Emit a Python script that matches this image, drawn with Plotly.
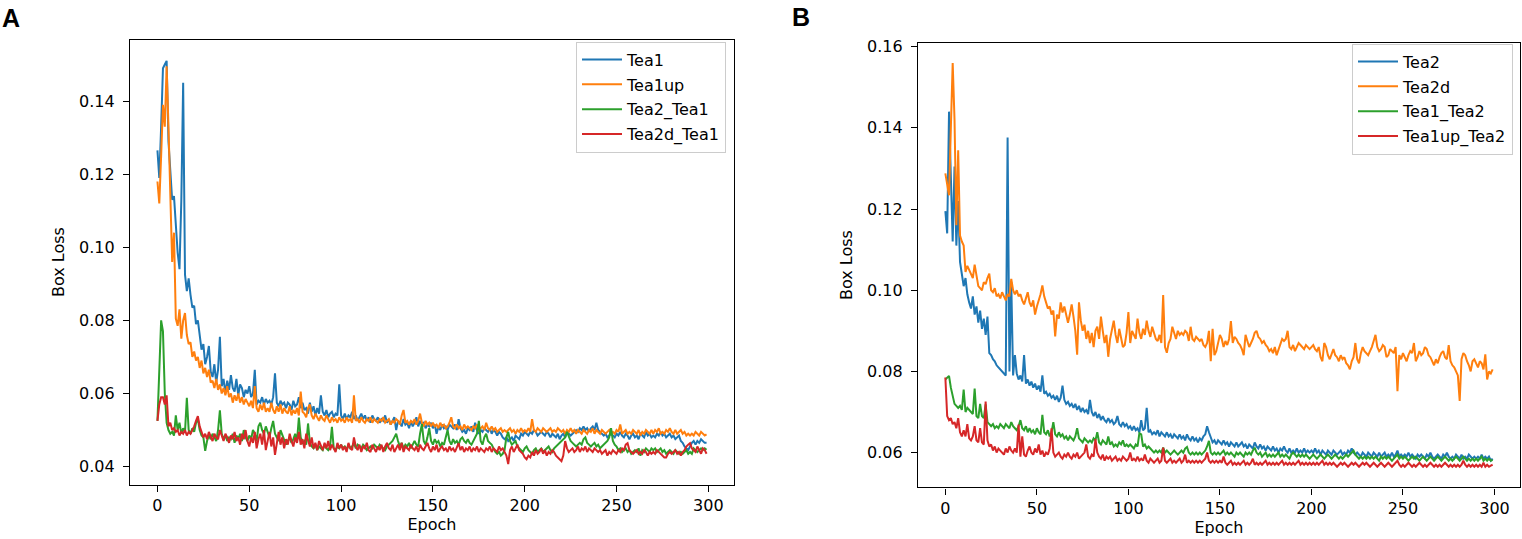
import plotly.graph_objects as go

epochs = list(range(300))

# ---------------- Panel A ----------------
tea1 = [
0.1265,0.1190,0.1330,0.1490,0.1500,0.1510,0.1290,0.1200,0.1130,0.1140,
0.1060,0.0985,0.0940,0.1130,0.1450,0.0925,0.0880,0.0915,0.0870,0.0835,
0.0840,0.0790,0.0800,0.0750,0.0720,0.0735,0.0680,0.0700,0.0730,0.0660,
0.0645,0.0680,0.0630,0.0665,0.0755,0.0620,0.0640,0.0600,0.0635,0.0610,
0.0650,0.0615,0.0605,0.0640,0.0595,0.0625,0.0615,0.0590,0.0610,0.0600,
0.0620,0.0590,0.0600,0.0665,0.0570,0.0580,0.0575,0.0590,0.0570,0.0585,
0.0575,0.0580,0.0570,0.0590,0.0655,0.0575,0.0565,0.0580,0.0570,0.0575,
0.0560,0.0575,0.0570,0.0555,0.0580,0.0565,0.0570,0.0590,0.0560,0.0575,
0.0555,0.0560,0.0545,0.0575,0.0550,0.0565,0.0540,0.0560,0.0545,0.0595,
0.0550,0.0540,0.0555,0.0535,0.0545,0.0550,0.0535,0.0545,0.0540,0.0625,
0.0540,0.0530,0.0545,0.0530,0.0540,0.0535,0.0550,0.0530,0.0540,0.0525,
0.0535,0.0545,0.0530,0.0540,0.0525,0.0535,0.0520,0.0540,0.0530,0.0525,
0.0535,0.0520,0.0530,0.0525,0.0540,0.0520,0.0530,0.0515,0.0525,0.0535,
0.0500,0.0525,0.0520,0.0510,0.0530,0.0515,0.0520,0.0505,0.0525,0.0510,
0.0520,0.0535,0.0510,0.0525,0.0515,0.0520,0.0505,0.0515,0.0510,0.0520,
0.0505,0.0515,0.0490,0.0510,0.0500,0.0515,0.0505,0.0510,0.0500,0.0515,
0.0510,0.0505,0.0515,0.0500,0.0530,0.0505,0.0495,0.0500,0.0490,0.0505,
0.0500,0.0510,0.0495,0.0520,0.0500,0.0490,0.0500,0.0495,0.0505,0.0500,
0.0495,0.0505,0.0490,0.0500,0.0495,0.0485,0.0495,0.0490,0.0480,0.0475,
0.0480,0.0470,0.0475,0.0480,0.0470,0.0485,0.0480,0.0475,0.0490,0.0485,
0.0495,0.0490,0.0485,0.0495,0.0490,0.0500,0.0495,0.0485,0.0490,0.0495,
0.0490,0.0485,0.0495,0.0490,0.0480,0.0490,0.0485,0.0480,0.0490,0.0475,
0.0485,0.0490,0.0480,0.0495,0.0490,0.0485,0.0490,0.0495,0.0500,0.0495,
0.0505,0.0500,0.0510,0.0500,0.0505,0.0495,0.0505,0.0510,0.0500,0.0520,
0.0500,0.0495,0.0490,0.0485,0.0490,0.0480,0.0485,0.0490,0.0485,0.0480,
0.0490,0.0485,0.0495,0.0485,0.0480,0.0490,0.0485,0.0475,0.0485,0.0490,
0.0480,0.0485,0.0475,0.0490,0.0485,0.0480,0.0495,0.0485,0.0490,0.0480,
0.0485,0.0480,0.0490,0.0485,0.0495,0.0485,0.0490,0.0480,0.0485,0.0490,
0.0480,0.0485,0.0475,0.0480,0.0485,0.0470,0.0465,0.0455,0.0450,0.0445,
0.0455,0.0465,0.0470,0.0460,0.0470,0.0465,0.0475,0.0470,0.0465,0.0465]

tea1up = [
0.1180,0.1120,0.1250,0.1390,0.1330,0.1495,0.1330,0.1150,0.0960,0.1040,
0.0805,0.0785,0.0830,0.0750,0.0800,0.0820,0.0760,0.0735,0.0740,0.0700,
0.0715,0.0690,0.0700,0.0670,0.0690,0.0655,0.0670,0.0645,0.0665,0.0630,
0.0635,0.0615,0.0640,0.0610,0.0625,0.0600,0.0615,0.0595,0.0620,0.0590,
0.0600,0.0575,0.0595,0.0580,0.0600,0.0575,0.0590,0.0570,0.0585,0.0575,
0.0565,0.0580,0.0560,0.0620,0.0560,0.0550,0.0570,0.0555,0.0575,0.0550,
0.0560,0.0550,0.0575,0.0555,0.0545,0.0565,0.0550,0.0570,0.0545,0.0560,
0.0550,0.0545,0.0565,0.0540,0.0555,0.0545,0.0560,0.0540,0.0605,0.0550,
0.0545,0.0535,0.0560,0.0570,0.0540,0.0530,0.0545,0.0535,0.0525,0.0540,
0.0530,0.0525,0.0540,0.0530,0.0520,0.0535,0.0525,0.0530,0.0520,0.0535,
0.0525,0.0530,0.0520,0.0535,0.0525,0.0530,0.0520,0.0595,0.0525,0.0530,
0.0520,0.0535,0.0525,0.0520,0.0530,0.0525,0.0535,0.0520,0.0530,0.0525,
0.0520,0.0530,0.0525,0.0535,0.0520,0.0525,0.0530,0.0515,0.0525,0.0520,
0.0530,0.0525,0.0515,0.0540,0.0555,0.0520,0.0525,0.0515,0.0525,0.0520,
0.0530,0.0515,0.0525,0.0545,0.0520,0.0510,0.0525,0.0515,0.0520,0.0510,
0.0520,0.0510,0.0515,0.0505,0.0520,0.0510,0.0515,0.0505,0.0510,0.0520,
0.0535,0.0510,0.0505,0.0515,0.0505,0.0510,0.0500,0.0515,0.0505,0.0510,
0.0505,0.0500,0.0510,0.0505,0.0515,0.0500,0.0505,0.0510,0.0500,0.0520,
0.0505,0.0500,0.0510,0.0500,0.0505,0.0495,0.0500,0.0505,0.0495,0.0500,
0.0495,0.0500,0.0505,0.0495,0.0500,0.0490,0.0500,0.0495,0.0505,0.0495,
0.0500,0.0495,0.0505,0.0495,0.0530,0.0500,0.0495,0.0505,0.0500,0.0495,
0.0505,0.0500,0.0495,0.0500,0.0505,0.0495,0.0500,0.0495,0.0505,0.0500,
0.0495,0.0500,0.0490,0.0500,0.0495,0.0505,0.0495,0.0500,0.0490,0.0500,
0.0495,0.0490,0.0500,0.0495,0.0490,0.0500,0.0495,0.0505,0.0490,0.0500,
0.0495,0.0490,0.0500,0.0495,0.0490,0.0495,0.0500,0.0490,0.0495,0.0490,
0.0500,0.0495,0.0515,0.0490,0.0495,0.0500,0.0490,0.0495,0.0490,0.0500,
0.0495,0.0490,0.0500,0.0485,0.0495,0.0490,0.0500,0.0495,0.0490,0.0500,
0.0490,0.0500,0.0495,0.0505,0.0490,0.0495,0.0490,0.0500,0.0495,0.0505,
0.0495,0.0490,0.0500,0.0490,0.0495,0.0500,0.0490,0.0495,0.0485,0.0490,
0.0485,0.0490,0.0485,0.0495,0.0490,0.0485,0.0495,0.0490,0.0485,0.0488]

tea2_tea1 = [
0.0525,0.0650,0.0800,0.0770,0.0600,0.0520,0.0500,0.0490,0.0495,0.0485,
0.0540,0.0500,0.0520,0.0490,0.0505,0.0495,0.0588,0.0500,0.0490,0.0505,
0.0495,0.0520,0.0530,0.0500,0.0485,0.0480,0.0443,0.0470,0.0485,0.0475,
0.0490,0.0480,0.0470,0.0500,0.0554,0.0490,0.0475,0.0485,0.0470,0.0480,
0.0475,0.0490,0.0465,0.0485,0.0475,0.0490,0.0470,0.0500,0.0480,0.0470,
0.0485,0.0475,0.0500,0.0490,0.0470,0.0510,0.0520,0.0500,0.0490,0.0510,
0.0495,0.0480,0.0505,0.0525,0.0490,0.0480,0.0470,0.0500,0.0485,0.0470,
0.0460,0.0470,0.0480,0.0465,0.0475,0.0490,0.0470,0.0534,0.0480,0.0465,
0.0470,0.0460,0.0518,0.0465,0.0455,0.0450,0.0460,0.0445,0.0455,0.0450,
0.0445,0.0460,0.0450,0.0445,0.0455,0.0509,0.0450,0.0445,0.0455,0.0450,
0.0460,0.0450,0.0455,0.0445,0.0460,0.0450,0.0455,0.0465,0.0450,0.0460,
0.0455,0.0450,0.0460,0.0455,0.0445,0.0450,0.0455,0.0450,0.0460,0.0455,
0.0450,0.0460,0.0455,0.0450,0.0445,0.0455,0.0460,0.0465,0.0470,0.0480,
0.0490,0.0470,0.0455,0.0465,0.0450,0.0460,0.0455,0.0465,0.0450,0.0460,
0.0470,0.0460,0.0455,0.0490,0.0516,0.0470,0.0460,0.0480,0.0505,0.0470,
0.0460,0.0475,0.0465,0.0470,0.0455,0.0465,0.0460,0.0480,0.0500,0.0470,
0.0460,0.0475,0.0465,0.0470,0.0460,0.0475,0.0480,0.0470,0.0465,0.0475,
0.0465,0.0460,0.0470,0.0480,0.0490,0.0525,0.0470,0.0460,0.0480,0.0490,
0.0470,0.0465,0.0460,0.0450,0.0440,0.0435,0.0440,0.0430,0.0435,0.0445,
0.0480,0.0495,0.0470,0.0460,0.0465,0.0470,0.0455,0.0450,0.0445,0.0440,
0.0450,0.0455,0.0445,0.0440,0.0435,0.0445,0.0450,0.0440,0.0445,0.0450,
0.0440,0.0445,0.0450,0.0455,0.0445,0.0440,0.0450,0.0455,0.0460,0.0465,
0.0470,0.0475,0.0480,0.0495,0.0480,0.0470,0.0465,0.0460,0.0455,0.0460,
0.0465,0.0460,0.0475,0.0480,0.0465,0.0460,0.0455,0.0460,0.0465,0.0455,
0.0460,0.0450,0.0455,0.0460,0.0465,0.0470,0.0480,0.0505,0.0470,0.0460,
0.0455,0.0445,0.0450,0.0440,0.0445,0.0450,0.0440,0.0445,0.0435,0.0440,
0.0445,0.0440,0.0450,0.0430,0.0445,0.0440,0.0450,0.0445,0.0440,0.0450,
0.0445,0.0450,0.0440,0.0445,0.0450,0.0440,0.0445,0.0435,0.0440,0.0445,
0.0440,0.0435,0.0445,0.0440,0.0435,0.0440,0.0435,0.0440,0.0445,0.0435,
0.0440,0.0435,0.0450,0.0445,0.0440,0.0445,0.0450,0.0445,0.0450,0.0446]

tea2d_tea1 = [
0.0525,0.0570,0.0590,0.0590,0.0570,0.0595,0.0510,0.0520,0.0500,0.0505,
0.0495,0.0500,0.0485,0.0495,0.0490,0.0500,0.0485,0.0495,0.0490,0.0500,
0.0510,0.0525,0.0538,0.0510,0.0495,0.0480,0.0490,0.0475,0.0495,0.0480,
0.0470,0.0490,0.0480,0.0475,0.0500,0.0485,0.0470,0.0490,0.0480,0.0465,
0.0485,0.0475,0.0495,0.0470,0.0480,0.0460,0.0490,0.0475,0.0500,0.0470,
0.0455,0.0480,0.0465,0.0495,0.0450,0.0475,0.0490,0.0460,0.0500,0.0445,
0.0470,0.0495,0.0455,0.0480,0.0432,0.0470,0.0495,0.0460,0.0480,0.0450,
0.0475,0.0460,0.0490,0.0470,0.0455,0.0480,0.0465,0.0495,0.0460,0.0475,
0.0450,0.0490,0.0470,0.0455,0.0480,0.0450,0.0465,0.0445,0.0470,0.0455,
0.0445,0.0465,0.0450,0.0470,0.0445,0.0460,0.0450,0.0440,0.0465,0.0450,
0.0460,0.0445,0.0455,0.0440,0.0465,0.0450,0.0445,0.0480,0.0455,0.0445,
0.0460,0.0440,0.0455,0.0450,0.0465,0.0445,0.0440,0.0460,0.0450,0.0440,
0.0455,0.0445,0.0460,0.0440,0.0455,0.0465,0.0450,0.0445,0.0460,0.0440,
0.0450,0.0460,0.0445,0.0465,0.0440,0.0455,0.0450,0.0445,0.0460,0.0450,
0.0445,0.0455,0.0440,0.0460,0.0450,0.0445,0.0455,0.0465,0.0450,0.0440,
0.0455,0.0445,0.0460,0.0440,0.0450,0.0455,0.0445,0.0450,0.0440,0.0455,
0.0445,0.0450,0.0440,0.0455,0.0464,0.0445,0.0455,0.0440,0.0450,0.0445,
0.0455,0.0440,0.0450,0.0445,0.0455,0.0440,0.0450,0.0445,0.0440,0.0450,
0.0445,0.0455,0.0440,0.0450,0.0445,0.0440,0.0455,0.0445,0.0450,0.0440,
0.0430,0.0407,0.0445,0.0455,0.0440,0.0450,0.0460,0.0445,0.0440,0.0435,
0.0425,0.0420,0.0430,0.0425,0.0440,0.0430,0.0445,0.0435,0.0440,0.0450,
0.0435,0.0445,0.0430,0.0440,0.0435,0.0445,0.0440,0.0430,0.0425,0.0420,
0.0415,0.0430,0.0470,0.0450,0.0440,0.0445,0.0450,0.0440,0.0445,0.0455,
0.0440,0.0450,0.0445,0.0455,0.0440,0.0450,0.0445,0.0440,0.0450,0.0445,
0.0440,0.0445,0.0435,0.0440,0.0445,0.0430,0.0440,0.0435,0.0445,0.0440,
0.0435,0.0445,0.0440,0.0450,0.0445,0.0460,0.0464,0.0445,0.0440,0.0435,
0.0440,0.0445,0.0435,0.0440,0.0435,0.0445,0.0440,0.0430,0.0440,0.0435,
0.0440,0.0435,0.0445,0.0440,0.0435,0.0430,0.0425,0.0425,0.0435,0.0440,
0.0435,0.0440,0.0445,0.0435,0.0440,0.0430,0.0440,0.0445,0.0455,0.0460,
0.0464,0.0450,0.0445,0.0440,0.0455,0.0445,0.0435,0.0450,0.0445,0.0435]

# ---------------- Panel B ----------------
tea2 = [
0.1195,0.1140,0.1440,0.1280,0.1120,0.1305,0.1110,0.1220,0.1070,0.1040,
0.1010,0.1030,0.0990,0.0970,0.0955,0.0985,0.0940,0.0960,0.0920,0.0950,
0.0905,0.0930,0.0890,0.0935,0.0845,0.0840,0.0830,0.0825,0.0815,0.0810,
0.0805,0.0800,0.0795,0.0790,0.1376,0.0800,0.1020,0.0790,0.0840,0.0795,
0.0780,0.0790,0.0775,0.0840,0.0770,0.0780,0.0765,0.0775,0.0760,0.0770,
0.0755,0.0765,0.0750,0.0790,0.0745,0.0750,0.0740,0.0745,0.0735,0.0740,
0.0730,0.0740,0.0725,0.0735,0.0765,0.0730,0.0720,0.0725,0.0715,0.0720,
0.0710,0.0720,0.0705,0.0715,0.0700,0.0710,0.0700,0.0705,0.0695,0.0730,
0.0700,0.0690,0.0700,0.0685,0.0695,0.0680,0.0690,0.0680,0.0675,0.0685,
0.0675,0.0680,0.0670,0.0675,0.0690,0.0670,0.0665,0.0675,0.0665,0.0670,
0.0660,0.0665,0.0655,0.0665,0.0655,0.0660,0.0650,0.0680,0.0655,0.0660,
0.0710,0.0650,0.0655,0.0645,0.0650,0.0645,0.0655,0.0640,0.0650,0.0645,
0.0640,0.0650,0.0640,0.0645,0.0635,0.0645,0.0640,0.0635,0.0645,0.0635,
0.0640,0.0630,0.0645,0.0635,0.0630,0.0640,0.0630,0.0635,0.0625,0.0635,
0.0630,0.0640,0.0645,0.0665,0.0650,0.0635,0.0625,0.0630,0.0620,0.0630,
0.0625,0.0620,0.0630,0.0620,0.0625,0.0615,0.0625,0.0620,0.0615,0.0625,
0.0615,0.0620,0.0625,0.0615,0.0620,0.0610,0.0620,0.0615,0.0610,0.0625,
0.0615,0.0610,0.0620,0.0610,0.0615,0.0605,0.0615,0.0610,0.0605,0.0615,
0.0605,0.0610,0.0600,0.0610,0.0605,0.0615,0.0605,0.0600,0.0610,0.0600,
0.0605,0.0600,0.0610,0.0600,0.0605,0.0600,0.0610,0.0600,0.0605,0.0600,
0.0605,0.0600,0.0610,0.0600,0.0605,0.0595,0.0605,0.0600,0.0595,0.0605,
0.0600,0.0595,0.0605,0.0600,0.0595,0.0600,0.0605,0.0595,0.0600,0.0595,
0.0605,0.0600,0.0610,0.0600,0.0595,0.0600,0.0595,0.0590,0.0600,0.0595,
0.0590,0.0600,0.0595,0.0590,0.0600,0.0595,0.0590,0.0600,0.0590,0.0595,
0.0600,0.0590,0.0595,0.0590,0.0600,0.0590,0.0595,0.0605,0.0590,0.0595,
0.0590,0.0595,0.0590,0.0600,0.0590,0.0595,0.0590,0.0585,0.0595,0.0590,
0.0595,0.0590,0.0585,0.0595,0.0590,0.0600,0.0590,0.0585,0.0590,0.0595,
0.0590,0.0585,0.0595,0.0590,0.0600,0.0590,0.0585,0.0590,0.0585,0.0595,
0.0590,0.0585,0.0595,0.0585,0.0590,0.0585,0.0595,0.0590,0.0585,0.0590,
0.0585,0.0590,0.0585,0.0595,0.0585,0.0590,0.0585,0.0590,0.0580,0.0585]

tea2d = [
0.1288,0.1260,0.1234,0.1400,0.1560,0.1420,0.1160,0.1345,0.1135,0.1120,
0.1110,0.1045,0.1060,0.1050,0.1040,0.1030,0.1063,0.1040,0.1010,0.1005,
0.1000,0.1020,0.1015,0.1030,0.1041,0.1000,0.0995,0.1005,0.0985,0.0990,
0.0980,0.0995,0.0985,0.0975,0.0990,0.0985,0.1028,0.1000,0.0990,0.1000,
0.0985,0.0990,0.0975,0.0965,0.0980,0.0995,0.0970,0.0960,0.0975,0.0940,
0.0960,0.0975,0.0990,0.1012,0.0985,0.0970,0.0955,0.0960,0.0940,0.0950,
0.0886,0.0940,0.0930,0.0970,0.0945,0.0960,0.0935,0.0920,0.0940,0.0965,
0.0935,0.0900,0.0841,0.0970,0.0925,0.0900,0.0915,0.0880,0.0900,0.0870,
0.0895,0.0860,0.0900,0.0910,0.0880,0.0935,0.0900,0.0870,0.0890,0.0836,
0.0880,0.0905,0.0925,0.0890,0.0870,0.0905,0.0880,0.0860,0.0865,0.0895,
0.0946,0.0870,0.0900,0.0890,0.0880,0.0930,0.0895,0.0880,0.0905,0.0890,
0.0925,0.0900,0.0885,0.0910,0.0895,0.0880,0.0875,0.0890,0.0870,0.0988,
0.0860,0.0846,0.0870,0.0880,0.0910,0.0895,0.0880,0.0900,0.0890,0.0895,
0.0890,0.0900,0.0895,0.0875,0.0910,0.0880,0.0875,0.0885,0.0880,0.0875,
0.0880,0.0865,0.0860,0.0870,0.0900,0.0825,0.0905,0.0840,0.0850,0.0870,
0.0890,0.0880,0.0860,0.0875,0.0865,0.0880,0.0924,0.0870,0.0885,0.0880,
0.0870,0.0865,0.0855,0.0840,0.0890,0.0875,0.0860,0.0870,0.0880,0.0895,
0.0900,0.0885,0.0880,0.0870,0.0875,0.0865,0.0860,0.0850,0.0855,0.0845,
0.0860,0.0840,0.0855,0.0870,0.0880,0.0875,0.0880,0.0900,0.0860,0.0855,
0.0865,0.0850,0.0860,0.0870,0.0865,0.0860,0.0855,0.0865,0.0860,0.0855,
0.0860,0.0865,0.0855,0.0850,0.0860,0.0835,0.0825,0.0870,0.0860,0.0840,
0.0830,0.0845,0.0855,0.0840,0.0835,0.0825,0.0840,0.0830,0.0835,0.0820,
0.0815,0.0805,0.0825,0.0835,0.0870,0.0830,0.0820,0.0845,0.0860,0.0850,
0.0845,0.0840,0.0850,0.0860,0.0875,0.0890,0.0860,0.0850,0.0855,0.0865,
0.0860,0.0835,0.0840,0.0855,0.0850,0.0845,0.0860,0.0751,0.0840,0.0830,
0.0845,0.0835,0.0825,0.0840,0.0850,0.0845,0.0870,0.0825,0.0835,0.0850,
0.0840,0.0845,0.0860,0.0855,0.0840,0.0835,0.0825,0.0815,0.0830,0.0820,
0.0835,0.0845,0.0850,0.0835,0.0830,0.0865,0.0825,0.0815,0.0810,0.0800,
0.0790,0.0727,0.0830,0.0845,0.0840,0.0825,0.0815,0.0800,0.0825,0.0830,
0.0820,0.0810,0.0825,0.0820,0.0805,0.0842,0.0780,0.0800,0.0795,0.0805]

tea1_tea2 = [
0.0780,0.0785,0.0789,0.0760,0.0740,0.0720,0.0715,0.0710,0.0715,0.0705,
0.0755,0.0700,0.0710,0.0705,0.0700,0.0695,0.0758,0.0690,0.0685,0.0720,
0.0690,0.0685,0.0719,0.0675,0.0670,0.0665,0.0670,0.0660,0.0665,0.0660,
0.0670,0.0665,0.0660,0.0670,0.0665,0.0660,0.0675,0.0665,0.0660,0.0655,
0.0665,0.0680,0.0660,0.0655,0.0665,0.0650,0.0660,0.0650,0.0655,0.0645,
0.0660,0.0650,0.0645,0.0693,0.0650,0.0645,0.0655,0.0640,0.0650,0.0675,
0.0645,0.0640,0.0650,0.0640,0.0645,0.0635,0.0640,0.0630,0.0640,0.0635,
0.0630,0.0640,0.0660,0.0635,0.0630,0.0625,0.0635,0.0630,0.0625,0.0630,
0.0625,0.0635,0.0630,0.0650,0.0625,0.0620,0.0630,0.0625,0.0620,0.0640,
0.0620,0.0625,0.0615,0.0620,0.0615,0.0625,0.0620,0.0630,0.0615,0.0620,
0.0615,0.0620,0.0615,0.0610,0.0620,0.0615,0.0648,0.0645,0.0615,0.0620,
0.0610,0.0615,0.0610,0.0605,0.0600,0.0605,0.0600,0.0605,0.0600,0.0612,
0.0600,0.0605,0.0600,0.0595,0.0600,0.0605,0.0600,0.0595,0.0600,0.0605,
0.0600,0.0610,0.0614,0.0600,0.0595,0.0600,0.0595,0.0600,0.0595,0.0600,
0.0595,0.0600,0.0605,0.0615,0.0629,0.0600,0.0595,0.0600,0.0595,0.0600,
0.0595,0.0600,0.0605,0.0595,0.0600,0.0595,0.0600,0.0595,0.0590,0.0600,
0.0595,0.0600,0.0595,0.0590,0.0600,0.0595,0.0600,0.0595,0.0605,0.0612,
0.0600,0.0595,0.0600,0.0590,0.0595,0.0600,0.0590,0.0595,0.0590,0.0595,
0.0590,0.0595,0.0600,0.0590,0.0595,0.0590,0.0595,0.0590,0.0585,0.0595,
0.0600,0.0595,0.0590,0.0595,0.0590,0.0595,0.0590,0.0595,0.0590,0.0585,
0.0590,0.0595,0.0590,0.0585,0.0590,0.0595,0.0590,0.0585,0.0590,0.0595,
0.0590,0.0585,0.0590,0.0595,0.0590,0.0585,0.0590,0.0585,0.0590,0.0595,
0.0590,0.0595,0.0600,0.0605,0.0595,0.0590,0.0585,0.0590,0.0585,0.0590,
0.0585,0.0590,0.0585,0.0590,0.0585,0.0590,0.0585,0.0580,0.0590,0.0585,
0.0590,0.0585,0.0590,0.0585,0.0580,0.0585,0.0590,0.0595,0.0585,0.0590,
0.0585,0.0590,0.0585,0.0580,0.0585,0.0590,0.0585,0.0590,0.0585,0.0580,
0.0585,0.0590,0.0585,0.0580,0.0585,0.0590,0.0585,0.0580,0.0585,0.0590,
0.0585,0.0580,0.0585,0.0590,0.0585,0.0580,0.0585,0.0580,0.0585,0.0590,
0.0585,0.0580,0.0585,0.0590,0.0585,0.0580,0.0585,0.0580,0.0585,0.0580,
0.0585,0.0580,0.0585,0.0590,0.0580,0.0585,0.0580,0.0585,0.0580,0.0582]

tea1up_tea2 = [
0.0785,0.0690,0.0680,0.0685,0.0670,0.0675,0.0660,0.0685,0.0650,0.0640,
0.0655,0.0640,0.0670,0.0635,0.0630,0.0640,0.0665,0.0630,0.0625,0.0660,
0.0625,0.0620,0.0726,0.0630,0.0615,0.0620,0.0605,0.0615,0.0600,0.0610,
0.0605,0.0600,0.0595,0.0610,0.0600,0.0615,0.0605,0.0600,0.0610,0.0600,
0.0669,0.0590,0.0640,0.0595,0.0590,0.0605,0.0615,0.0600,0.0595,0.0610,
0.0600,0.0620,0.0595,0.0605,0.0590,0.0600,0.0595,0.0610,0.0660,0.0600,
0.0590,0.0595,0.0600,0.0590,0.0585,0.0595,0.0590,0.0600,0.0590,0.0585,
0.0595,0.0590,0.0600,0.0585,0.0590,0.0595,0.0600,0.0620,0.0590,0.0585,
0.0595,0.0590,0.0633,0.0600,0.0590,0.0585,0.0595,0.0580,0.0590,0.0585,
0.0590,0.0580,0.0585,0.0590,0.0580,0.0585,0.0580,0.0590,0.0585,0.0580,
0.0585,0.0600,0.0580,0.0585,0.0580,0.0590,0.0580,0.0585,0.0580,0.0595,
0.0580,0.0575,0.0585,0.0580,0.0575,0.0580,0.0585,0.0575,0.0580,0.0612,
0.0580,0.0575,0.0580,0.0585,0.0575,0.0580,0.0575,0.0580,0.0585,0.0575,
0.0580,0.0595,0.0575,0.0580,0.0575,0.0580,0.0575,0.0580,0.0575,0.0580,
0.0575,0.0580,0.0585,0.0600,0.0580,0.0575,0.0580,0.0575,0.0580,0.0575,
0.0580,0.0575,0.0590,0.0575,0.0570,0.0575,0.0580,0.0570,0.0575,0.0570,
0.0575,0.0570,0.0575,0.0580,0.0570,0.0575,0.0570,0.0575,0.0585,0.0570,
0.0575,0.0570,0.0575,0.0570,0.0575,0.0580,0.0570,0.0575,0.0570,0.0575,
0.0570,0.0575,0.0570,0.0575,0.0580,0.0570,0.0575,0.0570,0.0575,0.0570,
0.0575,0.0570,0.0575,0.0580,0.0570,0.0575,0.0570,0.0575,0.0570,0.0575,
0.0570,0.0575,0.0570,0.0575,0.0570,0.0575,0.0580,0.0570,0.0575,0.0570,
0.0575,0.0570,0.0575,0.0570,0.0565,0.0570,0.0575,0.0570,0.0575,0.0570,
0.0565,0.0570,0.0575,0.0570,0.0575,0.0570,0.0565,0.0570,0.0575,0.0570,
0.0575,0.0570,0.0565,0.0570,0.0575,0.0570,0.0565,0.0570,0.0575,0.0570,
0.0565,0.0570,0.0575,0.0570,0.0565,0.0570,0.0575,0.0580,0.0570,0.0565,
0.0570,0.0565,0.0570,0.0575,0.0570,0.0565,0.0570,0.0565,0.0570,0.0575,
0.0570,0.0565,0.0570,0.0565,0.0570,0.0575,0.0570,0.0565,0.0570,0.0565,
0.0570,0.0565,0.0570,0.0575,0.0570,0.0565,0.0570,0.0565,0.0570,0.0565,
0.0570,0.0565,0.0570,0.0580,0.0570,0.0565,0.0570,0.0565,0.0570,0.0565,
0.0570,0.0565,0.0570,0.0565,0.0575,0.0565,0.0570,0.0565,0.0568,0.0570]

x_ticks = [0, 50, 100, 150, 200, 250, 300]
y_ticks_a = [0.04, 0.06, 0.08, 0.10, 0.12, 0.14]
y_ticks_b = [0.06, 0.08, 0.10, 0.12, 0.14, 0.16]

colors = ["#1f77b4", "#ff7f0e", "#2ca02c", "#d62728"]
W, H = 1522, 539
FONT = "DejaVu Sans"

fig = go.Figure()

series_a = [("Tea1", tea1), ("Tea1up", tea1up), ("Tea2_Tea1", tea2_tea1), ("Tea2d_Tea1", tea2d_tea1)]
series_b = [("Tea2", tea2), ("Tea2d", tea2d), ("Tea1_Tea2", tea1_tea2), ("Tea1up_Tea2", tea1up_tea2)]

for i, (name, ys) in enumerate(series_a):
    fig.add_trace(go.Scatter(x=epochs, y=ys, mode="lines", name=name,
                             line=dict(color=colors[i], width=2),
                             xaxis="x", yaxis="y", legend="legend",
                             legendgroup="a%d" % i))
for i, (name, ys) in enumerate(series_b):
    fig.add_trace(go.Scatter(x=epochs, y=ys, mode="lines", name=name,
                             line=dict(color=colors[i], width=2),
                             xaxis="x2", yaxis="y2", legend="legend2",
                             legendgroup="b%d" % i))

def px_x(p):
    return p / W

def px_y(p):
    return 1 - p / H

axis_common = dict(showgrid=False, zeroline=False, showline=True, mirror=True,
                   linecolor="#000000", linewidth=1.2, ticks="outside", ticklen=6,
                   tickwidth=1.2, tickcolor="#000000",
                   tickfont=dict(family=FONT, size=16, color="#000000"))

legend_common = dict(xanchor="right", yanchor="top",
                     bgcolor="rgba(255,255,255,0.8)", bordercolor="#cccccc", borderwidth=1,
                     font=dict(family=FONT, size=16, color="#000000"),
                     tracegroupgap=1, traceorder="grouped", itemwidth=40)

fig.update_layout(
    width=W, height=H,
    margin=dict(l=0, r=0, t=0, b=0),
    paper_bgcolor="white", plot_bgcolor="white",
    font=dict(family=FONT, size=16, color="#000000"),
    xaxis=dict(domain=[px_x(130), px_x(734)], range=[-14.95, 313.95],
               tickvals=x_ticks, anchor="y",
               title=dict(text="Epoch", standoff=4, font=dict(family=FONT, size=16)),
               **axis_common),
    yaxis=dict(domain=[px_y(484), px_y(35)], range=[0.0351, 0.1568],
               tickvals=y_ticks_a, tickformat=".2f", anchor="x", ticklabelstandoff=5,
               title=dict(text="Box Loss", standoff=10, font=dict(family=FONT, size=16)),
               **axis_common),
    xaxis2=dict(domain=[px_x(918), px_x(1520)], range=[-14.95, 313.95],
                tickvals=x_ticks, anchor="y2",
                title=dict(text="Epoch", standoff=4, font=dict(family=FONT, size=16)),
                **axis_common),
    yaxis2=dict(domain=[px_y(487), px_y(38)], range=[0.0514, 0.161],
                tickvals=y_ticks_b, tickformat=".2f", anchor="x2", ticklabelstandoff=5,
                title=dict(text="Box Loss", standoff=10, font=dict(family=FONT, size=16)),
                **axis_common),
    legend=dict(x=px_x(726), y=px_y(37), **legend_common),
    legend2=dict(x=px_x(1513), y=px_y(39), **legend_common),
    annotations=[
        dict(text="<b>A</b>", x=px_x(0), y=px_y(13), xref="paper", yref="paper",
             xanchor="left", yanchor="middle", showarrow=False,
             font=dict(family="Liberation Sans", size=25, color="#000000")),
        dict(text="<b>B</b>", x=px_x(790), y=px_y(12), xref="paper", yref="paper",
             xanchor="left", yanchor="middle", showarrow=False,
             font=dict(family="Liberation Sans", size=25, color="#000000")),
    ],
)

fig.write_html("out.html", config={"displayModeBar": False},
               post_script="document.body.style.margin='0';")
